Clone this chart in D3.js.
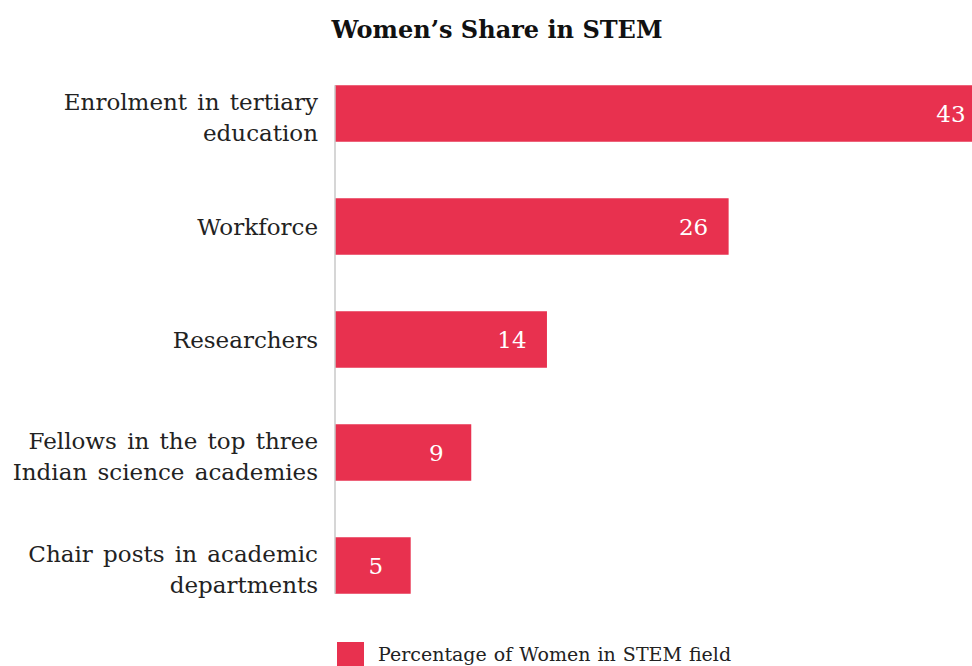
<!DOCTYPE html>
<html>
<head>
<meta charset="utf-8">
<script src="https://cdn.jsdelivr.net/npm/d3@7"></script>
<style>
  html, body { margin: 0; padding: 0; background: #fff; overflow: hidden; }
  svg { display: block; }
</style>
</head>
<body>
<svg id="chart" width="972" height="666"></svg>
<script>
// Share of women at each stage of the STEM pipeline (percent)
const categories = [
  ["Enrolment in tertiary", "education"],
  ["Workforce"],
  ["Researchers"],
  ["Fellows in the top three", "Indian science academies"],
  ["Chair posts in academic", "departments"]
];
const values = [43, 26, 14, 9, 5];
const seriesName = "Percentage of Women in STEM field";
const titleText = "Women\u2019s Share in STEM";

const W = 972, H = 666;
const barColor = "#e8314f";
const serif = "'DejaVu Serif', 'Liberation Serif', serif";

const svg = d3.select("#chart");

const x = d3.scaleLinear().domain([0, 43]).range([335, 986]);
const y = d3.scaleBand()
  .domain(d3.range(values.length))
  .range([57, 622])
  .paddingInner(0.5)
  .paddingOuter(0.25);

// title
svg.append("text")
  .attr("x", 497).attr("y", 38)
  .attr("text-anchor", "middle")
  .attr("font-family", serif)
  .attr("font-weight", "bold")
  .attr("font-size", 24)
  .attr("fill", "#111")
  .text(titleText);

// bars
svg.append("g").selectAll("rect")
  .data(values)
  .join("rect")
  .attr("x", x(0))
  .attr("y", (d, i) => y(i))
  .attr("width", d => x(d) - x(0))
  .attr("height", y.bandwidth())
  .attr("fill", barColor);

// vertical baseline
svg.append("line")
  .attr("x1", x(0)).attr("x2", x(0))
  .attr("y1", y(0)).attr("y2", y(values.length - 1) + y.bandwidth())
  .attr("stroke", "#c8c8c8")
  .attr("stroke-width", 1.5);

// value labels inside bars
svg.append("g").selectAll("text")
  .data(values)
  .join("text")
  .attr("x", d => x(d) - 35)
  .attr("y", (d, i) => y(i) + y.bandwidth() / 2)
  .attr("dy", "0.38em")
  .attr("text-anchor", "middle")
  .attr("font-family", serif)
  .attr("font-size", 23)
  .attr("fill", "#fff")
  .text(d => d);

// category labels
const lineH = 31;
const labels = svg.append("g").selectAll("text")
  .data(categories)
  .join("text")
  .attr("text-anchor", "end")
  .attr("font-family", serif)
  .attr("font-size", 23)
  .attr("word-spacing", 3)
  .attr("fill", "#222");
labels.each(function(lines, i) {
  const cy = y(i) + y.bandwidth() / 2 + (lines.length > 1 ? 4 : 0);
  const top = cy - (lines.length - 1) * lineH / 2;
  d3.select(this).selectAll("tspan")
    .data(lines)
    .join("tspan")
    .attr("x", 318)
    .attr("y", (d, j) => top + j * lineH)
    .attr("dy", "0.36em")
    .text(d => d);
});

// legend
const legend = svg.append("g");
legend.append("rect")
  .attr("x", 337).attr("y", 642)
  .attr("width", 27).attr("height", 27)
  .attr("fill", barColor);
legend.append("text")
  .attr("x", 378).attr("y", 661)
  .attr("font-family", serif)
  .attr("font-size", 19)
  .attr("word-spacing", 1)
  .attr("fill", "#222")
  .text(seriesName);
</script>
</body>
</html>
